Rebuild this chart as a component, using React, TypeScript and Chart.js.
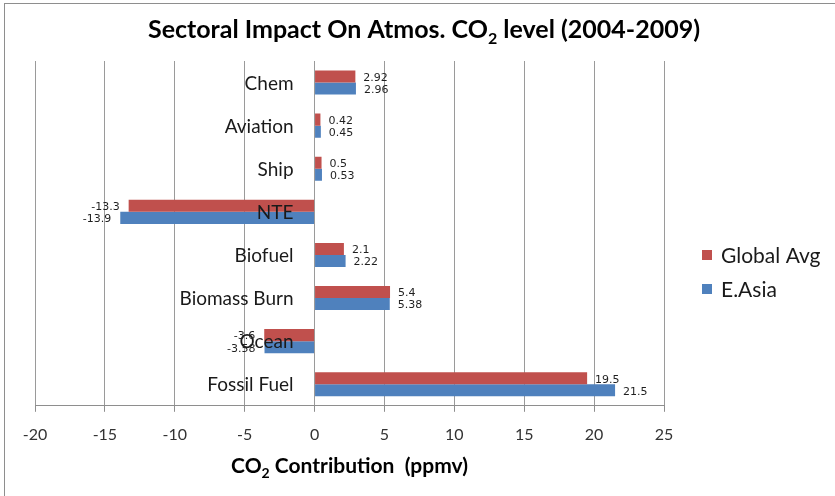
import React, { useEffect, useRef } from "react";
import { Chart, registerables } from "chart.js";

Chart.register(...registerables);

const categories = ["Chem", "Aviation", "Ship", "NTE", "Biofuel", "Biomass Burn", "Ocean", "Fossil Fuel"];
const globalAvg = [2.92, 0.42, 0.5, -13.3, 2.1, 5.4, -3.6, 19.5];
const eAsia = [2.96, 0.45, 0.53, -13.9, 2.22, 5.38, -3.58, 21.5];
const globalLabels = ["2.92", "0.42", "0.5", "-13.3", "2.1", "5.4", "-3.6", "19.5"];
const eAsiaLabels = ["2.96", "0.45", "0.53", "-13.9", "2.22", "5.38", "-3.58", "21.5"];
const seriesNames = ["Global Avg", "E.Asia"];
const seriesColors = ["#C0504D", "#4F81BD"];
const xMin = -20;
const xMax = 25;
const xStep = 5;

const FONT = "Lato, 'Open Sans', sans-serif";

const decorPlugin = {
  id: "decor",
  beforeDraw(chart: any) {
    const ctx = chart.ctx;
    ctx.save();
    ctx.fillStyle = "#ffffff";
    ctx.fillRect(0, 0, chart.width, chart.height);
    ctx.strokeStyle = "#8e8e8e";
    ctx.lineWidth = 1;
    ctx.strokeRect(4.5, 3.5, chart.width + 10, chart.height + 10);
    ctx.restore();
  },
  afterDatasetsDraw(chart: any) {
    const ctx = chart.ctx;
    const xs = chart.scales.x;
    const ys = chart.scales.y;
    const area = chart.chartArea;
    ctx.save();

    // category labels next to zero line
    ctx.font = `19px ${FONT}`;
    ctx.fillStyle = "#1a1a1a";
    ctx.textAlign = "right";
    ctx.textBaseline = "middle";
    const zx = xs.getPixelForValue(0);
    categories.forEach((c, i) => {
      ctx.fillText(c, zx - 21, ys.getPixelForValue(i) + 1);
    });

    // data labels
    ctx.font = "11px 'DejaVu Sans', sans-serif";
    ctx.fillStyle = "#1f1f1f";
    const lbls = [globalLabels, eAsiaLabels];
    chart.data.datasets.forEach((ds: any, di: number) => {
      const meta = chart.getDatasetMeta(di);
      meta.data.forEach((bar: any, i: number) => {
        const v = ds.data[i];
        const yy = bar.y + 1.5;
        if (v >= 0) {
          ctx.textAlign = "left";
          ctx.fillText(lbls[di][i], bar.x + 8, yy);
        } else {
          ctx.textAlign = "right";
          ctx.fillText(lbls[di][i], bar.x - 9, yy);
        }
      });
    });

    // titles with subscript
    const drawSub = (parts: [string, boolean][], cx: number, cy: number, size: number) => {
      let total = 0;
      parts.forEach(([t, sub]) => {
        ctx.font = `bold ${sub ? Math.round(size * 0.65) : size}px ${FONT}`;
        total += ctx.measureText(t).width;
      });
      let x = cx - total / 2;
      ctx.textAlign = "left";
      ctx.textBaseline = "alphabetic";
      parts.forEach(([t, sub]) => {
        ctx.font = `bold ${sub ? Math.round(size * 0.65) : size}px ${FONT}`;
        ctx.fillText(t, x, cy + (sub ? size * 0.25 : 0));
        x += ctx.measureText(t).width;
      });
    };
    ctx.fillStyle = "#000000";
    drawSub(
      [
        ["Sectoral Impact On Atmos. CO", false],
        ["2", true],
        [" level (2004-2009)", false],
      ],
      424,
      38,
      25
    );
    drawSub(
      [
        ["CO", false],
        ["2", true],
        [" Contribution  (ppmv)", false],
      ],
      (area.left + area.right) / 2,
      473,
      21
    );

    // legend
    ctx.font = `21px ${FONT}`;
    ctx.textAlign = "left";
    ctx.textBaseline = "middle";
    seriesNames.forEach((n, i) => {
      const y = 255 + i * 34;
      ctx.fillStyle = seriesColors[i];
      ctx.fillRect(702, y - 5, 10, 10);
      ctx.fillStyle = "#1a1a1a";
      ctx.fillText(n, 721, y + 1);
    });
    ctx.restore();
  },
};

export default function App() {
  const ref = useRef<HTMLCanvasElement>(null);
  useEffect(() => {
    document.body.style.margin = "0";
    const chart = new Chart(ref.current!, {
      type: "bar",
      data: {
        labels: categories,
        datasets: [
          { label: seriesNames[0], data: globalAvg, backgroundColor: seriesColors[0] },
          { label: seriesNames[1], data: eAsia, backgroundColor: seriesColors[1] },
        ],
      },
      options: {
        indexAxis: "y",
        responsive: false,
        animation: false,
        maintainAspectRatio: false,
        datasets: { bar: { categoryPercentage: 0.56, barPercentage: 1.0 } },
        layout: { padding: { left: 35, right: 171, top: 61, bottom: 39 } },
        plugins: { legend: { display: false }, title: { display: false }, tooltip: { enabled: false } },
        scales: {
          x: {
            min: xMin,
            max: xMax,
            ticks: {
              stepSize: xStep,
              padding: 13,
              color: "#333333",
              font: { family: FONT, size: 16 },
            },
            grid: { color: "#9a9a9a", tickLength: 6, drawTicks: true, tickColor: "#8e8e8e" },
            border: { display: true, color: "#8e8e8e" },
          },
          y: {
            display: false,
            grid: { display: false },
          },
        },
      },
      plugins: [decorPlugin],
    });
    return () => chart.destroy();
  }, []);
  return <canvas ref={ref} width={835} height={496} style={{ display: "block" }} />;
}
